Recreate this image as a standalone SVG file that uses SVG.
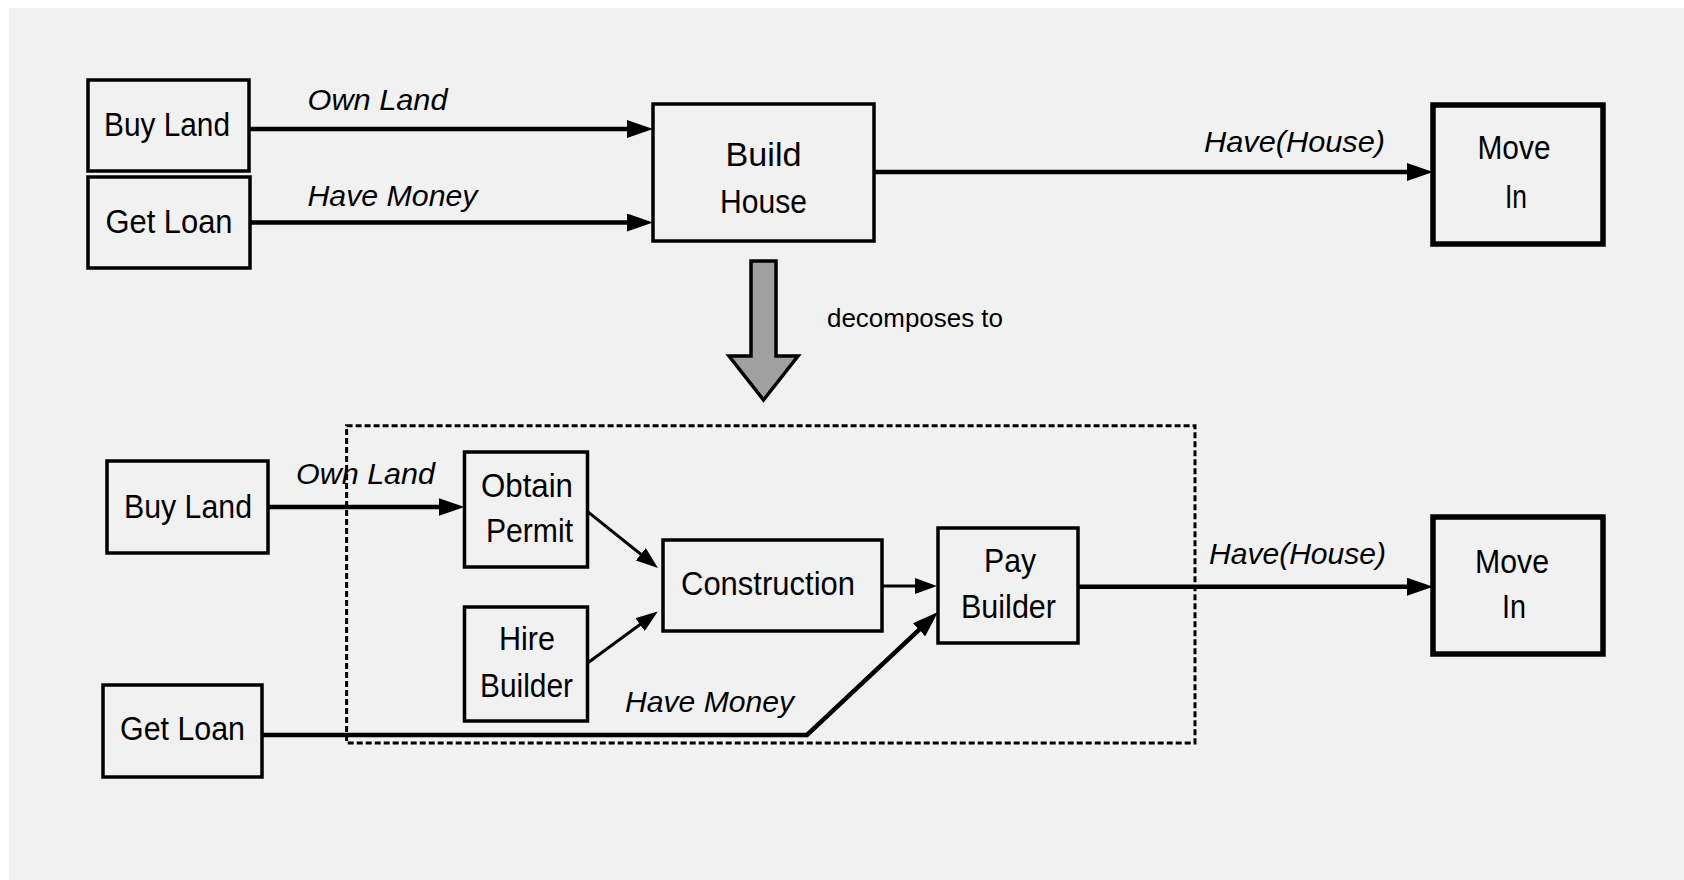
<svg xmlns="http://www.w3.org/2000/svg" width="1684" height="880" viewBox="0 0 1684 880">
<defs>
<style>
.box{fill:none;stroke:#000;stroke-width:3.5}
.boxb{fill:none;stroke:#000;stroke-width:5.5}
.t{font-family:"Liberation Sans",Arial,sans-serif;font-size:34px;fill:#000;text-anchor:middle}
.lab{font-family:"Liberation Sans",Arial,sans-serif;font-size:30px;font-style:italic;fill:#000}
.c{fill:none;stroke:#000;stroke-width:4.5;stroke-linejoin:miter}
.cn{fill:none;stroke:#000;stroke-width:3}
</style>
<marker id="ah" viewBox="0 0 26 18" refX="16" refY="9" markerWidth="26" markerHeight="18" markerUnits="userSpaceOnUse" orient="auto">
<path d="M0,0 L26,9 L0,18 z" fill="#000"/>
</marker>
<marker id="ahs" viewBox="0 0 22 16" refX="14" refY="8" markerWidth="22" markerHeight="16" markerUnits="userSpaceOnUse" orient="auto">
<path d="M0,0 L22,8 L0,16 z" fill="#000"/>
</marker>
</defs>
<rect x="0" y="0" width="1684" height="880" fill="#ffffff"/>
<rect x="9" y="8" width="1675" height="872" fill="#f1f1f1"/>

<g id="connectors">
<line class="c" x1="249" y1="129" x2="643" y2="129" marker-end="url(#ah)"/>
<line class="c" x1="250" y1="222.5" x2="643" y2="222.5" marker-end="url(#ah)"/>
<line class="c" x1="874" y1="172" x2="1423" y2="172" marker-end="url(#ah)"/>
<line class="c" x1="268" y1="507" x2="454.5" y2="507" marker-end="url(#ah)"/>
<line class="cn" x1="587.6" y1="511.7" x2="651.7" y2="563" marker-end="url(#ahs)"/>
<line class="cn" x1="587.6" y1="663" x2="651.3" y2="616.3" marker-end="url(#ahs)"/>
<line class="cn" x1="882" y1="586" x2="929" y2="586" marker-end="url(#ahs)"/>
<polyline class="c" points="262,735 807,735 930.7,618.8" marker-end="url(#ah)"/>
<line class="c" x1="1078" y1="586.7" x2="1423" y2="586.7" marker-end="url(#ah)"/>
<text class="lab" x="307.5" y="110" textLength="140" lengthAdjust="spacingAndGlyphs">Own Land</text>
<text class="lab" x="307.5" y="206" textLength="170" lengthAdjust="spacingAndGlyphs">Have Money</text>
<text class="lab" x="1204" y="152" textLength="181" lengthAdjust="spacingAndGlyphs">Have(House)</text>
<text class="lab" x="296" y="484" textLength="139" lengthAdjust="spacingAndGlyphs">Own Land</text>
<text class="lab" x="625" y="712" textLength="169" lengthAdjust="spacingAndGlyphs">Have Money</text>
<text class="lab" x="1209" y="564" textLength="177" lengthAdjust="spacingAndGlyphs">Have(House)</text>
</g>

<g id="decompose">
<path d="M751,261 L776,261 L776,356 L798,356 L763.5,400 L729,356 L751,356 z" fill="#a0a0a0" stroke="#000" stroke-width="3.5" stroke-linejoin="miter"/>
<text x="827" y="327" font-family="Liberation Sans,Arial,sans-serif" font-size="26" fill="#000" textLength="176" lengthAdjust="spacingAndGlyphs">decomposes to</text>
</g>

<g id="subplan">
<rect x="346.6" y="425.7" width="848.4" height="317.3" fill="none" stroke="#000" stroke-width="3" stroke-dasharray="6 3"/>
</g>

<g id="buyland1"><rect class="box" x="88" y="80" width="161" height="91"/><text class="t" x="167" y="136" textLength="126" lengthAdjust="spacingAndGlyphs">Buy Land</text></g>
<g id="getloan1"><rect class="box" x="88" y="177" width="162" height="91"/><text class="t" x="169" y="232.5" textLength="127" lengthAdjust="spacingAndGlyphs">Get Loan</text></g>
<g id="buildhouse"><rect class="box" x="653" y="104" width="221" height="137"/><text class="t" x="763.5" y="166" textLength="76" lengthAdjust="spacingAndGlyphs">Build</text><text class="t" x="763.5" y="213" textLength="87" lengthAdjust="spacingAndGlyphs">House</text></g>
<g id="movein1"><rect class="boxb" x="1433" y="105" width="170" height="139"/><text class="t" x="1514" y="159" textLength="73" lengthAdjust="spacingAndGlyphs">Move</text><text class="t" x="1516" y="208" textLength="22" lengthAdjust="spacingAndGlyphs">In</text></g>

<g id="buyland2"><rect class="box" x="107" y="461" width="161" height="92"/><text class="t" x="188" y="518" textLength="128" lengthAdjust="spacingAndGlyphs">Buy Land</text></g>
<g id="getloan2"><rect class="box" x="103" y="685" width="159" height="92"/><text class="t" x="182.5" y="740" textLength="125" lengthAdjust="spacingAndGlyphs">Get Loan</text></g>
<g id="obtainpermit"><rect class="box" x="464.5" y="452" width="123" height="115"/><text class="t" x="527" y="497" textLength="92" lengthAdjust="spacingAndGlyphs">Obtain</text><text class="t" x="529.5" y="542" textLength="87" lengthAdjust="spacingAndGlyphs">Permit</text></g>
<g id="hirebuilder"><rect class="box" x="464.5" y="607" width="123" height="114"/><text class="t" x="527" y="650" textLength="56" lengthAdjust="spacingAndGlyphs">Hire</text><text class="t" x="526.5" y="697" textLength="93" lengthAdjust="spacingAndGlyphs">Builder</text></g>
<g id="construction"><rect class="box" x="663" y="540" width="219" height="91"/><text class="t" x="768" y="595" textLength="174" lengthAdjust="spacingAndGlyphs">Construction</text></g>
<g id="paybuilder"><rect class="box" x="938" y="528" width="140" height="115"/><text class="t" x="1010" y="572" textLength="52" lengthAdjust="spacingAndGlyphs">Pay</text><text class="t" x="1008.5" y="618" textLength="95" lengthAdjust="spacingAndGlyphs">Builder</text></g>
<g id="movein2"><rect class="boxb" x="1433" y="517" width="170" height="137"/><text class="t" x="1512" y="573" textLength="74" lengthAdjust="spacingAndGlyphs">Move</text><text class="t" x="1514" y="618" textLength="24" lengthAdjust="spacingAndGlyphs">In</text></g>
</svg>
